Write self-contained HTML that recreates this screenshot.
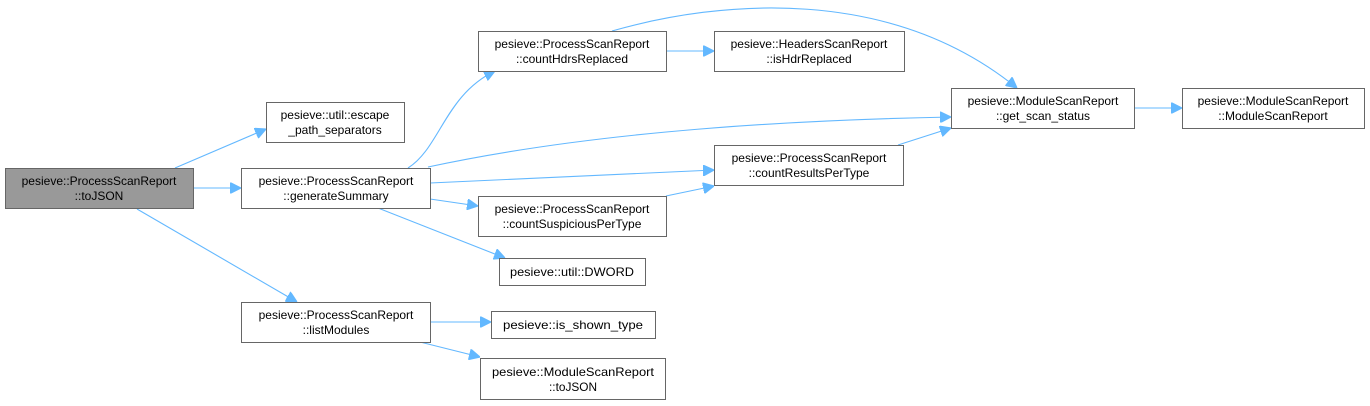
<!DOCTYPE html>
<html><head><meta charset="utf-8"><style>
html,body{margin:0;padding:0;background:#fff;}
svg{display:block;}
text{font-family:"Liberation Sans",sans-serif;font-size:12px;fill:#000;text-anchor:middle;}
.s{font-size:12px;}
rect{fill:#fff;stroke:#666;stroke-width:1;}
path{fill:none;stroke:#63b8ff;stroke-width:1.1;}
</style></head><body>
<svg width="1370" height="406" viewBox="0 0 1370 406" xmlns="http://www.w3.org/2000/svg">
<defs><marker id="a" viewBox="0 0 10 10" refX="10" refY="5" markerWidth="11" markerHeight="11" markerUnits="userSpaceOnUse" orient="auto"><path d="M0,0 L10,5 L0,10 z" style="fill:#63b8ff;stroke:#63b8ff"/></marker></defs>

<path d="M175,168 L266,129" marker-end="url(#a)"/>
<path d="M193,188 L241,188" marker-end="url(#a)"/>
<path d="M137,209 L297,302" marker-end="url(#a)"/>
<path d="M408,168 C440,148 445,95 495,71" marker-end="url(#a)"/>
<path d="M428,167 C600,130 800,120 951,117" marker-end="url(#a)"/>
<path d="M430,183 L714,170" marker-end="url(#a)"/>
<path d="M430,199 L478,206" marker-end="url(#a)"/>
<path d="M378,208 L505,258" marker-end="url(#a)"/>
<path d="M666,51 L714,51" marker-end="url(#a)"/>
<path d="M612,31 C720,0 890,-15 1017,88" marker-end="url(#a)"/>
<path d="M898,145 L951,128" marker-end="url(#a)"/>
<path d="M666,196 L714,186" marker-end="url(#a)"/>
<path d="M1134,108 L1182,108" marker-end="url(#a)"/>
<path d="M430,322 L491,322" marker-end="url(#a)"/>
<path d="M420,342 L480,357" marker-end="url(#a)"/>

<rect x="5.5" y="168.5" width="188" height="40" style="fill:#999;"/>
<text x="99" y="185">pesieve::ProcessScanReport</text><text x="99" y="200">::toJSON</text>

<rect x="266.5" y="102.5" width="138" height="40"/>
<text x="335" y="119">pesieve::util::escape</text><text x="335" y="134">_path_separators</text>

<rect x="241.5" y="168.5" width="189" height="40"/>
<text x="336" y="185">pesieve::ProcessScanReport</text><text x="336" y="200">::generateSummary</text>

<rect x="241.5" y="302.5" width="189" height="40"/>
<text x="336" y="319">pesieve::ProcessScanReport</text><text x="336" y="334">::listModules</text>

<rect x="478.5" y="31.5" width="188" height="40"/>
<text x="572" y="48">pesieve::ProcessScanReport</text><text x="572" y="63">::countHdrsReplaced</text>

<rect x="714.5" y="31.5" width="190" height="40"/>
<text x="809" y="48">pesieve::HeadersScanReport</text><text x="809" y="63">::isHdrReplaced</text>

<rect x="714.5" y="145.5" width="189" height="40"/>
<text x="809" y="162">pesieve::ProcessScanReport</text><text x="809" y="177">::countResultsPerType</text>

<rect x="478.5" y="196.5" width="188" height="40"/>
<text x="572" y="213">pesieve::ProcessScanReport</text><text x="572" y="228">::countSuspiciousPerType</text>

<rect x="499.5" y="258.5" width="146" height="27"/>
<text class="s" x="572" y="276" textLength="124" lengthAdjust="spacingAndGlyphs">pesieve::util::DWORD</text>

<rect x="491.5" y="311.5" width="164" height="27"/>
<text class="s" x="573" y="329" textLength="140" lengthAdjust="spacingAndGlyphs">pesieve::is_shown_type</text>

<rect x="480.5" y="358.5" width="185" height="41"/>
<text class="s" x="573" y="376" textLength="162" lengthAdjust="spacingAndGlyphs">pesieve::ModuleScanReport</text><text class="s" x="573" y="391" textLength="48" lengthAdjust="spacingAndGlyphs">::toJSON</text>

<rect x="951.5" y="88.5" width="183" height="40"/>
<text x="1043" y="105">pesieve::ModuleScanReport</text><text x="1043" y="120">::get_scan_status</text>

<rect x="1182.5" y="88.5" width="182" height="40"/>
<text x="1273" y="105">pesieve::ModuleScanReport</text><text x="1273" y="120">::ModuleScanReport</text>
</svg>
</body></html>
